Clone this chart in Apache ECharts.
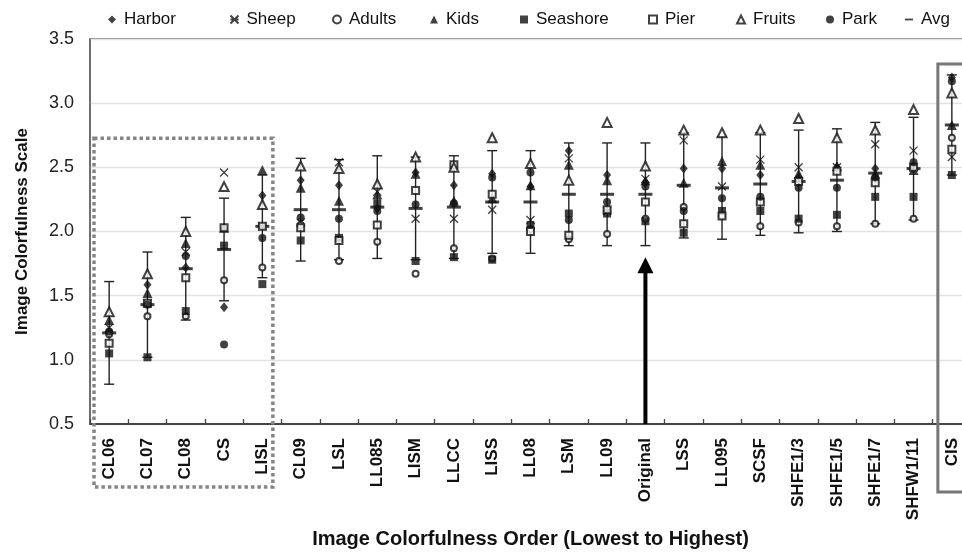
<!DOCTYPE html>
<html>
<head>
<meta charset="utf-8">
<script src="https://cdn.jsdelivr.net/npm/echarts@6/dist/echarts.min.js"></script>
<style>
  html, body { margin: 0; padding: 0; background: #fff; }
  #chart { width: 962px; height: 552px; }
</style>
</head>
<body>
<div id="chart"></div>
<script>
// Processing conditions, ordered from lowest to highest colorfulness
const categories = ['CL06','CL07','CL08','CS','LISL','CL09','LSL','LL085','LISM','LLCC','LISS','LL08','LSM','LL09','Original','LSS','LL095','SCSF','SHFE1/3','SHFE1/5','SHFE1/7','SHFW1/11','CIS'];

// Colorfulness rating per scene
const harbor   = [1.21,1.585,1.72,1.41,2.28,2.40,2.36,2.18,2.46,2.36,2.45,2.35,2.63,2.44,2.38,2.49,2.49,2.44,2.42,2.50,2.49,2.51,3.20];
const sheep    = [1.25,1.44,1.84,2.46,2.04,2.07,2.54,2.31,2.10,2.10,2.17,2.09,2.57,2.16,2.41,2.71,2.35,2.56,2.50,2.50,2.68,2.63,2.58];
const adults   = [1.20,1.34,1.34,1.62,1.72,2.05,1.77,1.92,1.67,1.87,1.79,2.02,1.94,1.98,2.10,2.19,2.12,2.04,2.07,2.04,2.06,2.10,2.73];
const kids     = [1.31,1.52,1.91,2.03,2.48,2.34,2.24,2.29,2.45,2.24,2.26,2.36,2.52,2.40,2.40,2.38,2.55,2.52,2.45,2.51,2.45,2.48,2.83];
const seashore = [1.05,1.02,1.38,1.89,1.59,1.93,1.95,2.22,1.77,1.80,1.78,2.05,2.14,2.14,2.08,1.99,2.16,2.16,2.10,2.13,2.27,2.27,2.44];
const pier     = [1.13,1.44,1.64,2.03,2.04,2.03,1.93,2.05,2.32,2.52,2.29,2.00,1.97,2.17,2.23,2.06,2.12,2.23,2.39,2.47,2.38,2.50,2.64];
const fruits   = [1.375,1.67,2.00,2.35,2.21,2.51,2.49,2.37,2.58,2.50,2.73,2.53,2.40,2.85,2.51,2.79,2.77,2.79,2.88,2.73,2.79,2.95,3.08];
const park     = [1.22,1.43,1.81,1.12,1.95,2.11,2.10,2.16,2.21,2.22,2.42,2.46,2.09,2.23,2.35,2.16,2.26,2.27,2.34,2.34,2.42,2.54,3.17];

// Mean over scenes and its standard deviation (error bar half-length)
const avg = [1.21,1.43,1.71,1.86,2.04,2.17,2.17,2.19,2.18,2.19,2.23,2.23,2.29,2.29,2.29,2.36,2.34,2.37,2.39,2.40,2.455,2.49,2.83];
const sd  = [0.40,0.41,0.40,0.40,0.40,0.40,0.39,0.40,0.40,0.40,0.40,0.40,0.40,0.40,0.40,0.41,0.40,0.40,0.40,0.40,0.395,0.40,0.39];

// Value axis ticks
const yMin = 0.5, yMax = 3.5, yStep = 0.5;

const FONT = '"Liberation Sans", Arial, sans-serif';
const INK = '#111';

const chart = echarts.init(document.getElementById('chart'), null, { renderer: 'canvas' });

const X_PATH = 'path://M0,0L10,10M10,0L0,10';
const DASH_PATH = 'path://M0,0L14,0L14,3L0,3Z';

function scatter(name, values, symbol, size, empty, extra) {
  return Object.assign({
    name, type: 'scatter', data: values, symbol, symbolSize: size, z: 5,
    itemStyle: empty
      ? { color: INK, borderColor: INK, borderWidth: 1 }
      : { color: INK },
    emphasis: { disabled: true },
    silent: true
  }, extra || {});
}

const errData = categories.map((c, i) => [i, avg[i] - sd[i], avg[i] + sd[i]]);

function renderErr(params, api) {
  const x = api.value(0);
  const lo = api.coord([x, api.value(1)]);
  const hi = api.coord([x, api.value(2)]);
  const w = 5;
  const style = { stroke: '#222', lineWidth: 1.4 };
  return {
    type: 'group',
    children: [
      { type: 'line', shape: { x1: lo[0], y1: lo[1], x2: hi[0], y2: hi[1] }, style },
      { type: 'line', shape: { x1: lo[0] - w, y1: lo[1], x2: lo[0] + w, y2: lo[1] }, style },
      { type: 'line', shape: { x1: hi[0] - w, y1: hi[1], x2: hi[0] + w, y2: hi[1] }, style }
    ]
  };
}

const legendNames = ['Harbor','Sheep','Adults','Kids','Seashore','Pier','Fruits','Park','Avg'];
const legendLeft  = [103, 223, 327, 425, 515, 643, 731, 821, 900];

const option = {
  backgroundColor: '#fff',
  animation: false,
  textStyle: { fontFamily: FONT },
  legend: legendNames.map((n, i) => ({
    data: [n === 'Sheep' ? { name: n, icon: 'path://M0,0L10,10M10,0L0,10M0,5L10,5' } : n],
    left: legendLeft[i], top: 6,
    itemWidth: 8, itemHeight: 8, itemGap: 0,
    selectedMode: false,
    textStyle: { fontFamily: FONT, fontSize: 17, color: INK, padding: [0, 0, 0, 3] }
  })),
  grid: {
    left: 90, top: 39, width: 881, height: 385,
    outerBoundsMode: 'none', containLabel: false,
    show: true, borderColor: '#666', borderWidth: 1.5
  },
  xAxis: {
    type: 'category',
    data: categories,
    boundaryGap: true,
    name: 'Image Colorfulness Order (Lowest to Highest)',
    nameLocation: 'middle',
    nameGap: 105,
    nameTextStyle: { fontFamily: FONT, fontSize: 20, fontWeight: 'bold', color: INK },
    axisLine: { show: true, lineStyle: { color: '#444', width: 2 } },
    axisTick: { show: true, inside: true, length: 5, lineStyle: { color: '#444', width: 1.3 }, alignWithLabel: false },
    axisLabel: {
      rotate: 90, margin: 14, interval: 0,
      fontFamily: FONT, fontSize: 17, fontWeight: 'bold', color: INK
    },
    splitLine: { show: false }
  },
  yAxis: {
    type: 'value',
    min: yMin, max: yMax, interval: yStep,
    name: 'Image Colorfulness Scale',
    nameLocation: 'middle',
    nameGap: 59,
    nameTextStyle: { fontFamily: FONT, fontSize: 17, fontWeight: 'bold', color: INK },
    axisLine: { show: true, lineStyle: { color: '#666', width: 1.5 } },
    axisTick: { show: false },
    axisLabel: { fontFamily: FONT, fontSize: 18, color: '#222', margin: 16, formatter: v => v.toFixed(1) },
    splitLine: { show: true, lineStyle: { color: '#e2e2e2', width: 1.3 } }
  },
  series: [
    {
      name: 'err', type: 'custom', data: errData, renderItem: renderErr,
      encode: { x: 0, y: [1, 2] }, z: 2, silent: true
    },
    scatter('Harbor',   harbor,   'diamond',       [8, 10], false),
    scatter('Sheep',    sheep,    X_PATH,          8, false, { itemStyle: { color: 'none', borderColor: INK, borderWidth: 1.3 } }),
    scatter('Adults',   adults,   'emptyCircle',   6, true),
    scatter('Kids',     kids,     'triangle',      10, false),
    scatter('Seashore', seashore, 'rect',          8, false),
    scatter('Pier',     pier,     'emptyRect',     7, true),
    scatter('Fruits',   fruits,   'emptyTriangle', 9, true),
    scatter('Park',     park,     'circle',        8, false),
    scatter('Avg',      avg,      DASH_PATH,       [14, 3], false, { z: 4 })
  ]
};

chart.setOption(option);

// Annotations positioned through the axes: the low-colorfulness group,
// the CIS condition and the arrow pointing at the original image.
const xOf = name => chart.convertToPixel({ xAxisIndex: 0 }, name);
const yOf = v => chart.convertToPixel({ yAxisIndex: 0 }, v);
const band = xOf(categories[1]) - xOf(categories[0]);
const yBottom = yOf(yMin);

const groupLeft = xOf(categories[0]) - band / 2 + 4;
const groupRight = xOf(categories[4]) + 10.5;
const groupTop = yOf(2.726);

const cisLeft = xOf('CIS') - 14;
const cisTop = yOf(3.305);

const arrowX = xOf('Original');
const tipY = yOf(1.80);

chart.setOption({
  graphic: [
    {
      type: 'rect', z: 10, silent: true,
      shape: { x: groupLeft, y: groupTop, width: groupRight - groupLeft, height: yBottom + 63 - groupTop },
      style: { fill: 'none', stroke: '#858585', lineWidth: 3.5, lineDash: [3.5, 3] }
    },
    {
      type: 'rect', z: 10, silent: true,
      shape: { x: cisLeft, y: cisTop, width: 60, height: yBottom + 68 - cisTop },
      style: { fill: 'none', stroke: '#777', lineWidth: 3 }
    },
    {
      type: 'rect', z: 10, silent: true,
      shape: { x: arrowX - 2, y: tipY + 14, width: 4, height: yBottom - tipY - 14 },
      style: { fill: '#000' }
    },
    {
      type: 'polygon', z: 10, silent: true,
      shape: { points: [[arrowX, tipY], [arrowX - 8, tipY + 16], [arrowX + 8, tipY + 16]] },
      style: { fill: '#000' }
    }
  ]
});
</script>
</body>
</html>
